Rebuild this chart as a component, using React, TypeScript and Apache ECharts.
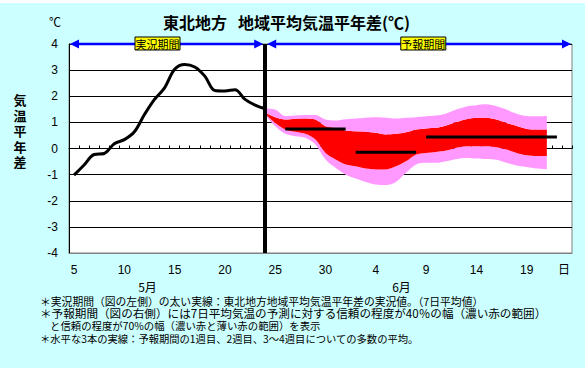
import React, { useEffect, useRef } from "react";
import * as echarts from "echarts";

// ---- categories: days from May 5 to June 23 ----
const mayDays: number[] = [5, 6, 7, 8, 9, 10, 11, 12, 13, 14, 15, 16, 17, 18, 19, 20, 21, 22, 23, 24, 25, 26, 27, 28, 29, 30, 31];
const juneDays: number[] = [1, 2, 3, 4, 5, 6, 7, 8, 9, 10, 11, 12, 13, 14, 15, 16, 17, 18, 19, 20, 21, 22, 23];
const categories: string[] = [...mayDays.map((d) => `5/${d}`), ...juneDays.map((d) => `6/${d}`)];

// ---- observed 7-day mean anomaly (May 5 .. May 24) ----
const observedStart = "5/5";
const observed = [-1.02, -0.63, -0.23, -0.19, 0.18, 0.34, 0.64, 1.3, 1.88, 2.32, 3.03, 3.22, 3.12, 2.77, 2.22, 2.2, 2.25, 1.88, 1.66, 1.52];

// ---- forecast ranges (May 24 .. June 21) ----
const forecastStart = "5/24";
const pinkTop = [1.53, 1.49, 1.24, 1.26, 1.28, 1.28, 1.11, 1.07, 1.12, 1.15, 1.18, 1.2, 1.18, 1.15, 1.18, 1.2, 1.23, 1.26, 1.34, 1.49, 1.61, 1.66, 1.69, 1.62, 1.49, 1.33, 1.24, 1.23, 1.24];
const redTop = [1.37, 1.2, 1.11, 1.14, 1.15, 1.11, 0.85, 0.79, 0.69, 0.66, 0.64, 0.6, 0.54, 0.56, 0.62, 0.73, 0.77, 0.79, 0.88, 1.01, 1.12, 1.18, 1.18, 1.11, 0.98, 0.86, 0.75, 0.73, 0.73];
const redBottom = [1.33, 0.98, 0.73, 0.64, 0.56, 0.34, -0.17, -0.42, -0.61, -0.68, -0.77, -0.8, -0.8, -0.68, -0.49, -0.23, -0.17, -0.13, -0.08, 0.03, 0.09, 0.09, 0.09, 0.05, -0.04, -0.17, -0.26, -0.29, -0.29];
const pinkBottom = [1.28, 0.85, 0.56, 0.47, 0.41, 0.15, -0.42, -0.74, -1.0, -1.15, -1.28, -1.38, -1.4, -1.28, -0.93, -0.61, -0.55, -0.55, -0.49, -0.4, -0.36, -0.38, -0.4, -0.43, -0.55, -0.65, -0.71, -0.77, -0.8];

// ---- ensemble means: week 1, week 2, weeks 3-4 ----
const meanValues = [0.75, -0.14, 0.44];
const meanFrom = ["5/26", "6/2", "6/9"];
const meanTo = ["6/1", "6/8", "6/22"];

const yMin = -4;
const yMax = 4;
const yInterval = 1;

const titleLeft = "東北地方";
const titleRight = "地域平均気温平年差(℃)";
const yName = "気温平年差";
const notes = [
  "＊実況期間（図の左側）の太い実線：東北地方地域平均気温平年差の実況値。（7日平均値）",
  "＊予報期間（図の右側）には7日平均気温の予測に対する信頼の程度が40％の幅（濃い赤の範囲）",
  "と信頼の程度が70%の幅（濃い赤と薄い赤の範囲）を表示",
  "＊水平な3本の実線：予報期間の1週目、2週目、3〜4週目についての多数の平均。",
];
const noteSizes = [10.8, 11.6, 10.4, 10.3];

const JP = "'Noto Sans CJK JP', sans-serif";
const NUM = "'Liberation Sans', 'Noto Sans CJK JP', sans-serif";

export default function App() {
  const ref = useRef<HTMLDivElement>(null);
  useEffect(() => {
    if (!ref.current) return;
    const chart = echarts.init(ref.current, undefined, { renderer: "svg" });

    const GL = 69, GT = 44, GW = 503, GH = 209;
    const N = categories.length;
    const place = (arr: number[], start: string) => {
      const s = categories.indexOf(start);
      return categories.map((_, i) => (i >= s && i < s + arr.length ? arr[i - s] : null));
    };
    const obsData = place(observed, observedStart);
    const lowPink = pinkBottom.map((v, i) => +(redBottom[i] - v).toFixed(3));
    const redSpan = redBottom.map((v, i) => +(redTop[i] - v).toFixed(3));
    const highPink = redTop.map((v, i) => +(pinkTop[i] - v).toFixed(3));
    const smooth = 0.3;
    const bandBase = {
      type: "line" as const,
      stack: "band",
      stackStrategy: "all",
      symbol: "none",
      smooth,
      silent: true,
      z: 2,
      xAxisIndex: 0,
    };
    const meanSeries = meanValues.map((v, k) => {
      const a = categories.indexOf(meanFrom[k]);
      const b = categories.indexOf(meanTo[k]);
      return {
        type: "line",
        symbol: "none",
        silent: true,
        z: 4,
        xAxisIndex: 0,
        lineStyle: { color: "#000", width: 3 },
        data: categories.map((_, i) => (i >= a && i <= b ? v : null)),
      };
    });

    const divIdx = categories.indexOf(forecastStart);
    const xDiv = GL + ((divIdx + 0.5) * GW) / N;
    const xR = GL + GW;
    const blue = "#0000FF";
    const ay = GT;
    const arrowHead = (tip: number, dir: number) => ({
      type: "polygon",
      shape: { points: [[tip, ay], [tip - dir * 9, ay - 4.5], [tip - dir * 9, ay + 4.5]] },
      style: { fill: blue },
      z: 20,
    });
    const labelBox = (cx: number, text: string) => [
      { type: "rect", shape: { x: cx - 22.5, y: ay - 7, width: 45, height: 13 }, style: { fill: "#FFFF00", stroke: "#000", lineWidth: 1 }, z: 21 },
      { type: "text", x: cx, y: ay - 0.5, style: { text, font: `11px ${JP}`, fill: "#000", align: "center", verticalAlign: "middle" }, z: 22 },
    ];

    const option: any = {
      animation: false,
      backgroundColor: "#fff",
      textStyle: { fontFamily: NUM },
      grid: { left: GL, top: GT, width: GW, height: GH, show: true, backgroundColor: "#fff", borderColor: "#808080", borderWidth: 1, containLabel: false },
      xAxis: [
        {
          type: "category",
          data: categories,
          boundaryGap: true,
          position: "bottom",
          axisLine: { onZero: false, lineStyle: { color: "#808080", width: 1 } },
          axisTick: { show: false },
          axisLabel: {
            interval: 4,
            margin: 11,
            color: "#000",
            fontSize: 12,
            fontFamily: NUM,
            formatter: (v: string) => v.split("/")[1],
          },
          splitLine: { show: false },
        },
        {
          type: "category",
          data: categories,
          boundaryGap: true,
          position: "top",
          axisLine: { onZero: true, lineStyle: { color: "#000", width: 1 } },
          axisTick: { show: true, interval: 0, length: 3, inside: false, lineStyle: { color: "#000" } },
          axisLabel: { show: false },
          splitLine: { show: false },
        },
      ],
      yAxis: {
        type: "value",
        min: yMin,
        max: yMax,
        interval: yInterval,
        axisLine: { show: true, lineStyle: { color: "#000", width: 1 } },
        axisTick: { show: false },
        axisLabel: { color: "#000", fontSize: 12, margin: 11, fontFamily: NUM },
        splitLine: { show: true, lineStyle: { color: "#000", width: 1 } },
      },
      series: [
        { ...bandBase, data: place(pinkBottom, forecastStart), lineStyle: { opacity: 0 } },
        { ...bandBase, data: place(lowPink, forecastStart), lineStyle: { opacity: 0 }, areaStyle: { color: "#FF99FF", opacity: 1 } },
        { ...bandBase, data: place(redSpan, forecastStart), lineStyle: { opacity: 0 }, areaStyle: { color: "#FF0000", opacity: 1 } },
        { ...bandBase, data: place(highPink, forecastStart), lineStyle: { opacity: 0 }, areaStyle: { color: "#FF99FF", opacity: 1 } },
        ...meanSeries,
        {
          type: "line",
          data: obsData,
          symbol: "none",
          smooth: 0.35,
          silent: true,
          z: 5,
          xAxisIndex: 0,
          lineStyle: { color: "#000", width: 3 },
          markLine: {
            silent: true,
            symbol: ["none", "none"],
            label: { show: false },
            lineStyle: { color: "#000", width: 4, type: "solid" },
            data: [{ xAxis: forecastStart }],
          },
        },
      ],
      graphic: [
        { type: "rect", shape: { x: 0, y: 3, width: 585, height: 365 }, style: { fill: "#CCFFFF" }, z: -10, silent: true },
        { type: "text", x: 163, y: 22, style: { text: titleLeft, font: `bold 16px ${JP}`, fill: "#000", verticalAlign: "middle" }, z: 10 },
        { type: "text", x: 238, y: 22, style: { text: titleRight, font: `bold 16px ${JP}`, fill: "#000", verticalAlign: "middle" }, z: 10 },
        { type: "text", x: 55, y: 21, style: { text: "℃", font: `12px ${JP}`, fill: "#000", align: "center", verticalAlign: "middle" }, z: 10 },
        ...yName.split("").map((ch, k) => ({
          type: "text",
          x: 20,
          y: 99.5 + k * 15.5,
          style: { text: ch, font: `bold 13px ${JP}`, fill: "#000", align: "center", verticalAlign: "middle" },
          z: 10,
        })),
        { type: "text", x: 147.5, y: 286, style: { text: "5月", font: `12px ${JP}`, fill: "#000", align: "center", verticalAlign: "middle" }, z: 10 },
        { type: "text", x: 401.5, y: 286, style: { text: "6月", font: `12px ${JP}`, fill: "#000", align: "center", verticalAlign: "middle" }, z: 10 },
        { type: "text", x: 564, y: 268, style: { text: "日", font: `12px ${JP}`, fill: "#000", align: "center", verticalAlign: "middle" }, z: 10 },
        ...notes.map((t, k) => ({
          type: "text",
          x: k === 2 ? 50 : 40,
          y: 300.5 + k * 12.5,
          style: { text: t, font: `${noteSizes[k]}px ${JP}`, fill: "#000", verticalAlign: "middle" },
          z: 10,
        })),
        { type: "line", shape: { x1: GL + 4, y1: ay, x2: xDiv - 6, y2: ay }, style: { stroke: blue, lineWidth: 2.5 }, z: 19 },
        { type: "line", shape: { x1: xDiv + 6, y1: ay, x2: xR - 4, y2: ay }, style: { stroke: blue, lineWidth: 2.5 }, z: 19 },
        arrowHead(GL + 1, -1),
        arrowHead(xDiv - 2, 1),
        arrowHead(xDiv + 2, -1),
        arrowHead(xR - 1, 1),
        ...labelBox(157.5, "実況期間"),
        ...labelBox(423.3, "予報期間"),
      ],
    };
    chart.setOption(option);
    return () => chart.dispose();
  }, []);
  return <div ref={ref} style={{ position: "absolute", left: 0, top: 0, width: 588, height: 372 }} />;
}
